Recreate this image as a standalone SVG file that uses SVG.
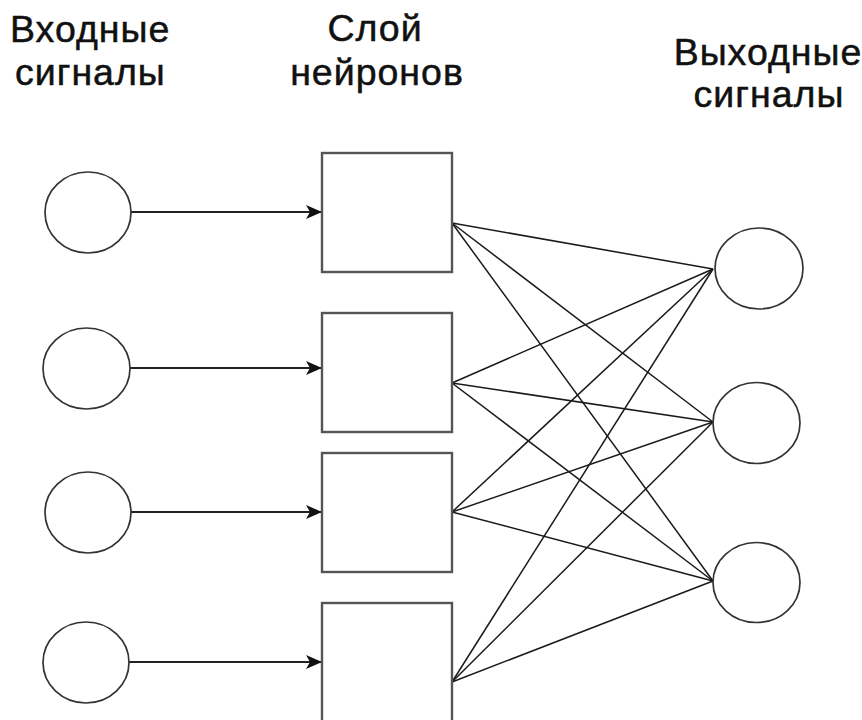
<svg xmlns="http://www.w3.org/2000/svg" width="862" height="720" viewBox="0 0 862 720">
  <style>
    .lbl { font-family: "Liberation Sans", Arial, sans-serif; font-size: 37.5px; letter-spacing: 1px; fill: #111; stroke: #111; stroke-width: 0.5; }
    .sig { fill: #fff; stroke: #333; stroke-width: 1.7; }
    .neuron { fill: #fff; stroke: #555; stroke-width: 2.4; }
    .in { stroke: #222; stroke-width: 2.2; fill: none; }
    .w { stroke: #1a1a1a; stroke-width: 1.5; fill: none; }
  </style>
  <defs>
    <marker id="arrow" markerWidth="16" markerHeight="14" refX="16" refY="7" orient="auto" markerUnits="userSpaceOnUse">
      <path d="M0,0 L16,7 L0,14 L4,7 Z" fill="#111"/>
    </marker>
  </defs>

  <rect width="862" height="720" fill="#fff"/>

  <!-- column headings -->
  <g id="heading-inputs">
    <text class="lbl" x="10" y="42">Входные</text>
    <text class="lbl" x="15" y="85">сигналы</text>
  </g>
  <g id="heading-layer">
    <text class="lbl" x="375" y="41" text-anchor="middle">Слой</text>
    <text class="lbl" x="377" y="85" text-anchor="middle">нейронов</text>
  </g>
  <g id="heading-outputs">
    <text class="lbl" x="768" y="65" text-anchor="middle">Выходные</text>
    <text class="lbl" x="769" y="107" text-anchor="middle">сигналы</text>
  </g>

  <!-- connectors -->
  <g id="connectors">
    <line class="in" x1="131" y1="212" x2="322" y2="212" marker-end="url(#arrow)"/>
    <line class="in" x1="130" y1="368" x2="322" y2="368" marker-end="url(#arrow)"/>
    <line class="in" x1="131" y1="512" x2="322" y2="512" marker-end="url(#arrow)"/>
    <line class="in" x1="129" y1="662" x2="322" y2="662" marker-end="url(#arrow)"/>

    <line class="w" x1="452" y1="223" x2="713" y2="269"/>
    <line class="w" x1="452" y1="223" x2="713" y2="422"/>
    <line class="w" x1="452" y1="223" x2="713" y2="581"/>
    <line class="w" x1="452" y1="383" x2="713" y2="269"/>
    <line class="w" x1="452" y1="383" x2="713" y2="422"/>
    <line class="w" x1="452" y1="383" x2="713" y2="581"/>
    <line class="w" x1="452" y1="512" x2="713" y2="269"/>
    <line class="w" x1="452" y1="512" x2="713" y2="422"/>
    <line class="w" x1="452" y1="512" x2="713" y2="581"/>
    <line class="w" x1="452" y1="682" x2="713" y2="269"/>
    <line class="w" x1="452" y1="682" x2="713" y2="422"/>
    <line class="w" x1="452" y1="682" x2="713" y2="581"/>
  </g>

  <!-- input signals -->
  <g id="in1"><ellipse class="sig" cx="88" cy="212.5" rx="43" ry="40.5"/></g>
  <g id="in2"><ellipse class="sig" cx="86.5" cy="368.5" rx="43.5" ry="40.5"/></g>
  <g id="in3"><ellipse class="sig" cx="88" cy="512.5" rx="43" ry="40.5"/></g>
  <g id="in4"><ellipse class="sig" cx="86" cy="662.5" rx="43" ry="40.5"/></g>

  <!-- neuron layer -->
  <g id="n1"><rect class="neuron" x="322" y="153" width="130" height="119"/></g>
  <g id="n2"><rect class="neuron" x="322" y="313" width="130" height="119"/></g>
  <g id="n3"><rect class="neuron" x="322" y="453" width="130" height="119"/></g>
  <g id="n4"><rect class="neuron" x="322" y="603" width="130" height="125"/></g>

  <!-- output signals -->
  <g id="out1"><ellipse class="sig" cx="759" cy="268.5" rx="44" ry="40.5"/></g>
  <g id="out2"><ellipse class="sig" cx="756.5" cy="423" rx="43.5" ry="40.5"/></g>
  <g id="out3"><ellipse class="sig" cx="756.5" cy="582.5" rx="43.5" ry="40"/></g>
</svg>
